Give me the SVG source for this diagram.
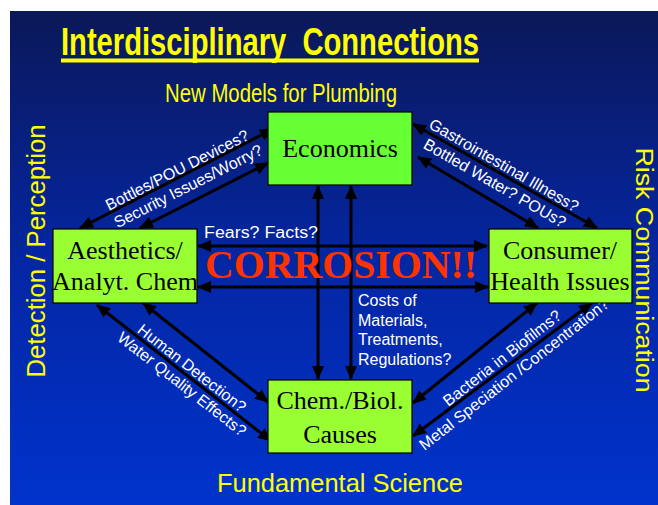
<svg xmlns="http://www.w3.org/2000/svg" width="658" height="505" viewBox="0 0 658 505">
<defs>
<linearGradient id="bg" x1="0" y1="0" x2="0" y2="1">
<stop offset="0" stop-color="#0b1858"/>
<stop offset="0.5" stop-color="#0426a2"/>
<stop offset="1" stop-color="#0033cc"/>
</linearGradient>
<marker id="ah" viewBox="0 0 14 12" refX="13" refY="6" markerWidth="14" markerHeight="12" markerUnits="userSpaceOnUse" orient="auto-start-reverse">
<path d="M0,0 L14,6 L0,12 z" fill="#000"/>
</marker>
<style>
.box{stroke:#000;stroke-width:1.2}
.g1{fill:#99ff33}
.g2{fill:#66ff33}
.bt{font-family:"Liberation Serif","Times New Roman",serif;font-size:26px;fill:#000;text-anchor:middle}
.ln{stroke:#000;stroke-width:3;fill:none;marker-start:url(#ah);marker-end:url(#ah)}
.lab{font-family:"Liberation Sans",Arial,sans-serif;font-size:16px;fill:#fff;text-anchor:middle}
.yl{font-family:"Liberation Sans",Arial,sans-serif;fill:#ffff00;text-anchor:middle}
</style>
</defs>
<rect x="10" y="11" width="648" height="494" fill="url(#bg)"/>
<g id="titles">
<text class="yl" x="270" y="55" font-size="38" font-weight="bold" textLength="418" lengthAdjust="spacingAndGlyphs" xml:space="preserve" style="white-space:pre">Interdisciplinary  Connections</text>
<rect x="61" y="58.5" width="418" height="4" fill="#ffff00"/>
<text class="yl" x="281" y="102" font-size="25" textLength="232" lengthAdjust="spacingAndGlyphs">New Models for Plumbing</text>
<text class="yl" x="340" y="492" font-size="25" textLength="246" lengthAdjust="spacingAndGlyphs">Fundamental Science</text>
<text class="yl" font-size="25" transform="translate(45,251) rotate(-90)" textLength="253" lengthAdjust="spacingAndGlyphs">Detection / Perception</text>
<text class="yl" font-size="23" transform="translate(636,270) rotate(90)" textLength="245" lengthAdjust="spacingAndGlyphs">Risk Communication</text>
</g>
<g id="connectors">
<line class="ln" x1="198" y1="246" x2="487" y2="246"/>
<line class="ln" x1="198" y1="287" x2="488" y2="287"/>
<line class="ln" x1="318" y1="186" x2="318" y2="379"/>
<line class="ln" x1="351" y1="186" x2="351" y2="379"/>
<line class="ln" x1="80" y1="228" x2="273" y2="129"/>
<line class="ln" x1="140" y1="228" x2="268" y2="163"/>
<line class="ln" x1="413" y1="124" x2="597" y2="228"/>
<line class="ln" x1="418" y1="157" x2="538" y2="228"/>
<line class="ln" x1="97" y1="305" x2="271" y2="441"/>
<line class="ln" x1="143" y1="303" x2="268" y2="402"/>
<line class="ln" x1="537" y1="303" x2="413" y2="403"/>
<line class="ln" x1="592" y1="303" x2="413" y2="436"/>
</g>
<g id="labels">
<text class="lab" x="204" y="238" font-size="17" style="text-anchor:start" textLength="114" lengthAdjust="spacingAndGlyphs">Fears? Facts?</text>
<text x="341" y="278" font-family="Liberation Serif,'Times New Roman',serif" font-weight="bold" font-size="39" fill="#ff3300" text-anchor="middle" textLength="272" lengthAdjust="spacingAndGlyphs">CORROSION!!</text>
<text class="lab" style="text-anchor:start" x="358" y="306">Costs of</text>
<text class="lab" style="text-anchor:start" x="358" y="326">Materials,</text>
<text class="lab" style="text-anchor:start" x="358" y="345">Treatments,</text>
<text class="lab" style="text-anchor:start" x="358" y="365">Regulations?</text>
<text class="lab" transform="translate(177,170) rotate(-27)" dy="0.35em">Bottles/POU Devices?</text>
<text class="lab" transform="translate(188,186) rotate(-27)" dy="0.35em">Security Issues/Worry?</text>
<text class="lab" transform="translate(504,165) rotate(30)" dy="0.35em">Gastrointestinal Illness?</text>
<text class="lab" transform="translate(495,183) rotate(30)" dy="0.35em">Bottled Water? POUs?</text>
<text class="lab" transform="translate(192,368) rotate(38)" dy="0.35em">Human Detection?</text>
<text class="lab" transform="translate(182,384) rotate(38)" dy="0.35em">Water Quality Effects?</text>
<text class="lab" transform="translate(502,358) rotate(-38)" dy="0.35em">Bacteria in Biofilms?</text>
<text class="lab" transform="translate(514,374) rotate(-38)" dy="0.35em">Metal Speciation /Concentration?</text>
</g>
<g id="economics">
<rect class="box g2" x="268" y="112" width="144" height="73"/>
<text class="bt" x="340" y="157">Economics</text>
</g>
<g id="aesthetics">
<rect class="box g1" x="53" y="229" width="144" height="74"/>
<text class="bt" x="125" y="259">Aesthetics/</text>
<text class="bt" x="125" y="290">Analyt. Chem</text>
</g>
<g id="consumer">
<rect class="box g1" x="489" y="229" width="143" height="74"/>
<text class="bt" x="560" y="259">Consumer/</text>
<text class="bt" x="560" y="290">Health Issues</text>
</g>
<g id="chem">
<rect class="box g1" x="268" y="380" width="144" height="73"/>
<text class="bt" x="340" y="409">Chem./Biol.</text>
<text class="bt" x="340" y="443">Causes</text>
</g>
</svg>
